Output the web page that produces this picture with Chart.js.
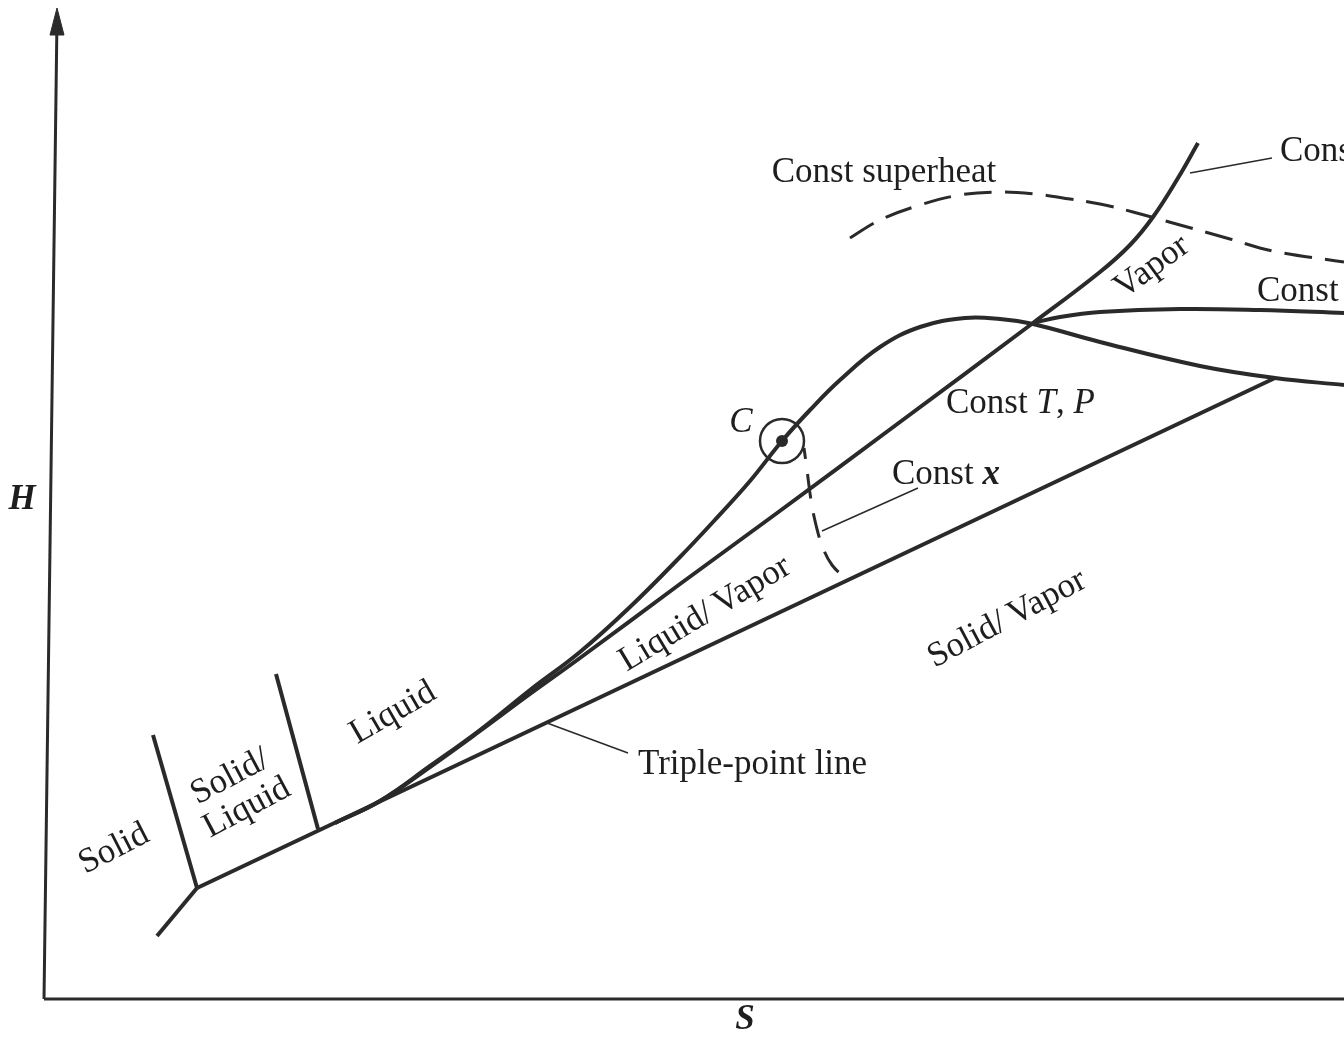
<!DOCTYPE html>
<html>
<head>
<meta charset="utf-8">
<title>Enthalpy–entropy (Mollier) diagram</title>
<script src="https://cdn.jsdelivr.net/npm/chart.js@4.4.1/dist/chart.umd.min.js"></script>
<style>
  html, body { margin: 0; padding: 0; background: #ffffff; }
  #chart { display: block; }
</style>
</head>
<body>
<canvas id="chart" width="1344" height="1040"></canvas>
<script>
// ---- H–S diagram data (S along x, H along y, arbitrary units) ----
const solidS = [113, 153];
const solidH = [63, 111];

const tripleS = [153, 1231];
const tripleH = [111, 621];

const fusionLeftS = [109, 153];
const fusionLeftH = [264, 111];

const fusionRightS = [232, 274];
const fusionRightH = [325, 170];

// saturated liquid -> critical point -> saturated vapor
const domeS = [291, 336, 386, 436, 486, 536, 586, 636, 669, 706, 738, 766, 796, 836, 876, 921, 956, 989, 1056, 1156, 1231, 1300];
const domeH = [176, 198, 233, 269, 309, 347, 392, 442, 477, 518, 558, 589, 619, 652, 672, 681, 680, 675, 657, 633, 621, 614];

// constant T (and P inside the dome)
const isothermS = [291, 336, 386, 436, 486, 536, 636, 729, 856, 989, 1056, 1086, 1109, 1134, 1154];
const isothermH = [176, 198, 232, 268, 305, 341, 415, 483, 577, 676, 727, 754, 782, 821, 856];

// constant P in the vapor region
const isobarS = [989, 1016, 1056, 1136, 1216, 1300];
const isobarH = [676, 682, 687, 690, 689, 686];

// constant superheat
const superheatS = [806, 836, 876, 916, 956, 991, 1026, 1056, 1089, 1136, 1186, 1229, 1300];
const superheatH = [761, 779, 794, 804, 807, 805, 800, 795, 787, 774, 760, 748, 737];

// constant quality x
const qualityS = [760, 763, 767, 772, 779, 788, 801];
const qualityH = [551, 529, 499, 474, 451, 434, 421];

// critical point C
const criticalS = [738];
const criticalH = [558];

// leader lines for callouts
const leaderTS = [1146, 1228];
const leaderTH = [826, 841];
const leaderXS = [778, 874];
const leaderXH = [468, 511];
const leaderTripleS = [503, 584];
const leaderTripleH = [276, 246];

// axes
const sAxisS = [0, 1300];
const sAxisH = [0, 0];
const hAxisS = [0, 13];
const hAxisH = [0, 980];
const arrowS = [6, 13, 20, 6];
const arrowH = [964, 991, 964, 964];

const pts = (xs, ys) => xs.map((x, i) => ({ x: x, y: ys[i] }));

const INK = '#2a2a2a';
const SERIF = '"Liberation Serif", "DejaVu Serif", serif';

function line(xs, ys, extra) {
  return Object.assign({
    data: pts(xs, ys),
    showLine: true,
    borderColor: INK,
    backgroundColor: INK,
    borderWidth: 4,
    pointRadius: 0,
    tension: 0,
    borderCapStyle: 'butt',
    borderJoinStyle: 'round',
    fill: false
  }, extra || {});
}

// text labels anchored in data units
const labels = [
  { s: 840, h: 826, runs: [['Const superheat', '']], align: 'center', angle: 0 },
  { s: 1236, h: 847, runs: [['Const ', ''], ['T', 'italic ']], align: 'left', angle: 0 },
  { s: 1213, h: 707, runs: [['Const ', ''], ['P', 'italic ']], align: 'left', angle: 0 },
  { s: 1108, h: 732, runs: [['Vapor', '']], align: 'center', angle: -36 },
  { s: 902, h: 595, runs: [['Const ', ''], ['T', 'italic '], [', ', ''], ['P', 'italic ']], align: 'left', angle: 0 },
  { s: 848, h: 524, runs: [['Const ', ''], ['x', 'italic bold ']], align: 'left', angle: 0 },
  { s: 661, h: 385, runs: [['Liquid/\u2009Vapor', '']], align: 'center', angle: -31 },
  { s: 963, h: 380, runs: [['Solid/\u2009Vapor', '']], align: 'center', angle: -28 },
  { s: 349, h: 286, runs: [['Liquid', '']], align: 'center', angle: -30 },
  { s: 70, h: 150, runs: [['Solid', '']], align: 'center', angle: -27 },
  { s: 186, h: 222, runs: [['Solid/', '']], align: 'center', angle: -28 },
  { s: 203, h: 191, runs: [['Liquid', '']], align: 'center', angle: -28 },
  { s: 594, h: 234, runs: [['Triple-point line', '']], align: 'left', angle: 0 },
  { s: 697, h: 576, runs: [['C', 'italic ']], align: 'center', angle: 0 },
  { s: -22, h: 499, runs: [['H', 'italic bold ']], align: 'center', angle: 0 },
  { s: 701, h: -21, runs: [['S', 'italic bold ']], align: 'center', angle: 0 }
];

const FONT_PX = 35;

const labelPlugin = {
  id: 'regionLabels',
  afterDatasetsDraw(chart) {
    const ctx = chart.ctx;
    const xs = chart.scales.x, ys = chart.scales.y;
    ctx.save();
    ctx.fillStyle = '#1e1e1e';
    ctx.textBaseline = 'middle';
    ctx.textAlign = 'left';
    labels.forEach(lb => {
      const px = xs.getPixelForValue(lb.s);
      const py = ys.getPixelForValue(lb.h);
      const widths = lb.runs.map(r => {
        ctx.font = r[1] + FONT_PX + 'px ' + SERIF;
        return ctx.measureText(r[0]).width;
      });
      const total = widths.reduce((a, b) => a + b, 0);
      ctx.save();
      ctx.translate(px, py);
      ctx.rotate(lb.angle * Math.PI / 180);
      let cx = lb.align === 'center' ? -total / 2 : 0;
      lb.runs.forEach((r, i) => {
        ctx.font = r[1] + FONT_PX + 'px ' + SERIF;
        ctx.fillText(r[0], cx, 0);
        cx += widths[i];
      });
      ctx.restore();
    });
    ctx.restore();
  }
};

new Chart(document.getElementById('chart'), {
  type: 'scatter',
  data: {
    datasets: [
      line(sAxisS, sAxisH, { borderWidth: 3 }),
      line(hAxisS, hAxisH, { borderWidth: 3 }),
      line(arrowS, arrowH, { borderWidth: 1, fill: 'shape', backgroundColor: INK, clip: false }),
      line(solidS, solidH),
      line(tripleS, tripleH),
      line(fusionLeftS, fusionLeftH),
      line(fusionRightS, fusionRightH),
      line(domeS, domeH, { tension: 0.4 }),
      line(isothermS, isothermH, { tension: 0.4 }),
      line(isobarS, isobarH, { tension: 0.4 }),
      line(superheatS, superheatH, { tension: 0.4, borderWidth: 3, borderDash: [28, 13] }),
      line(qualityS, qualityH, { tension: 0.4, borderWidth: 3, borderDash: [25, 15], borderDashOffset: 14 }),
      line(leaderTS, leaderTH, { borderWidth: 1.5 }),
      line(leaderXS, leaderXH, { borderWidth: 1.5 }),
      line(leaderTripleS, leaderTripleH, { borderWidth: 1.5 }),
      {
        data: pts(criticalS, criticalH),
        showLine: false,
        pointRadius: 22,
        pointBorderWidth: 2.5,
        pointBorderColor: INK,
        pointBackgroundColor: 'rgba(0,0,0,0)'
      },
      {
        data: pts(criticalS, criticalH),
        showLine: false,
        pointRadius: 6,
        pointBorderWidth: 0,
        pointBackgroundColor: INK
      }
    ]
  },
  options: {
    responsive: false,
    animation: false,
    devicePixelRatio: 1,
    events: [],
    layout: { padding: 0, autoPadding: false },
    plugins: { legend: { display: false }, tooltip: { enabled: false } },
    scales: {
      x: { type: 'linear', min: -44, max: 1300, display: false },
      y: { type: 'linear', min: -41, max: 999, display: false }
    }
  },
  plugins: [labelPlugin]
});
</script>
</body>
</html>
